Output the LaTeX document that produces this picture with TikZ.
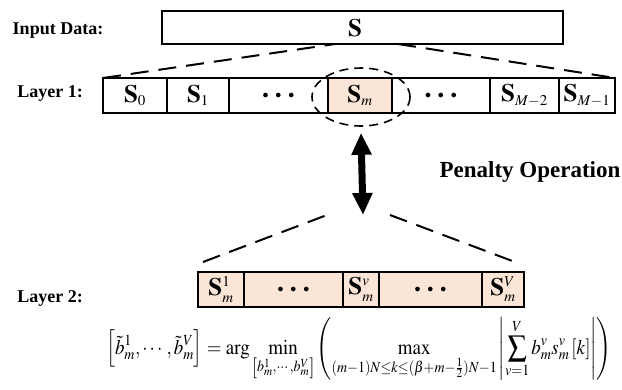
\documentclass[tikz,border=0pt]{standalone}
\usepackage{amsmath}
\usepackage{graphicx}
\usepackage{mathptmx}
\usepackage[no-math]{fontspec}
\setmainfont{Liberation Serif}
\usetikzlibrary{arrows.meta,shapes.geometric}
\definecolor{peach}{HTML}{FBE5D6}
\newcommand{\celldots}{\raisebox{-4pt}{\fontsize{12}{12}\selectfont$\bullet$\hspace{7pt}$\bullet$\hspace{7pt}$\bullet$}}
\newcommand{\tinyidx}[1]{{\scriptscriptstyle #1}}
\begin{document}
\begin{tikzpicture}[x=1pt,y=-1pt,
  box/.style={draw=black, line width=2pt, inner sep=0pt, outer sep=0pt,
    minimum height=35pt, font=\fontsize{25}{30}\selectfont},
  hl/.style={box, fill=peach},
  lbl/.style={font=\fontsize{18}{22}\selectfont\bfseries, inner sep=0pt},
  zoomline/.style={dash pattern=on 18pt off 10pt, line width=2pt},
  ringstyle/.style={draw, ellipse, dash pattern=on 9pt off 6pt, line width=1.6pt,
    minimum width=98pt, minimum height=58pt, inner sep=0pt},
  bigarrow/.style={line width=7pt, {Triangle[length=22pt,width=19pt]}-{Triangle[length=22pt,width=19pt]}}
]
\useasboundingbox (0,0) rectangle (622,389);

% input
\node[lbl] (inlbl) at (58,31) {Input Data:};
\node[box, minimum width=401pt, minimum height=33pt] (in) at (362.5,27.5) {};
\node[font=\fontsize{25}{30}\selectfont, inner sep=0pt] (s) at (355,28) {$\mathbf{S}$};

% layer 1
\node[lbl] (l1) at (50,93) {Layer 1:};
\node[box, minimum width=64pt] (c0) at (135,95.5) {$\mathbf{S}_{\tinyidx{0}}$};
\node[box, minimum width=62pt] (c1) at (198,95.5) {$\mathbf{S}_{\tinyidx{1}}$};
\node[box, minimum width=99pt] (cd1) at (278.5,95.5) {\celldots};
\node[hl, minimum width=64pt] (cm) at (360,95.5) {$\mathbf{S}_{\tinyidx{m}}$};
\node[box, minimum width=98pt] (cd2) at (441,95.5) {\celldots};
\node[box, minimum width=69pt] (cM2) at (524.5,95.5) {$\mathbf{S}_{\tinyidx{M-2}}$};
\node[box, minimum width=56pt] (cM1) at (587,95.5) {$\mathbf{S}_{\tinyidx{M-1}}$};

\coordinate (inL) at (335,44);
\coordinate (inR) at (398,44);
\draw[zoomline] (c0.north west) -- (inL);
\draw[zoomline] (inR) -- (cM1.north east);

\node[ringstyle] (ring) at (361,97) {};

% penalty
\coordinate (arrB) at (363,215);
\draw[bigarrow] ([yshift=-6pt]ring.south) -- (arrB);
\node[font=\fontsize{23}{27}\selectfont\bfseries, inner sep=0pt] (pen) at (530,172) {Penalty Operation};

% layer 2
\coordinate (apL) at (327,215);
\coordinate (apR) at (390,215);
\coordinate (ftL) at (203,262);
\coordinate (ftR) at (515,262);
\draw[zoomline] (ftL) -- (apL);
\draw[zoomline] (apR) -- (ftR);

\node[lbl] (l2) at (50,298) {Layer 2:};
\node[hl, minimum width=46pt] (d1) at (221,289.5) {$\mathbf{S}_{\tinyidx{m}}^{\tinyidx{1}}$};
\node[hl, minimum width=99pt] (dd1) at (293.5,289.5) {\celldots};
\node[hl, minimum width=36pt] (dv) at (361,289.5) {$\mathbf{S}_{\tinyidx{m}}^{\tinyidx{v}}$};
\node[hl, minimum width=103pt] (dd2) at (430.5,289.5) {\celldots};
\node[hl, minimum width=42pt] (dV) at (503,289.5) {$\mathbf{S}_{\tinyidx{m}}^{\tinyidx{V}}$};

% formula
\node[inner sep=0pt] (eq) at (359,349)
{\scalebox{0.88}[0.97]{\fontsize{21.5}{25}\selectfont$\displaystyle \Bigl[\tilde b_m^1,\cdots,\tilde b_m^V\Bigr] = \arg\min_{\left[b_m^1,\cdots,b_m^V\right]}\left(\max_{(m-1)N\le k\le(\beta+m-\frac12)N-1}\left|\sum_{v=1}^{V} b_m^v s_m^v\left[k\right]\right|\right)$}};
\end{tikzpicture}
\end{document}
